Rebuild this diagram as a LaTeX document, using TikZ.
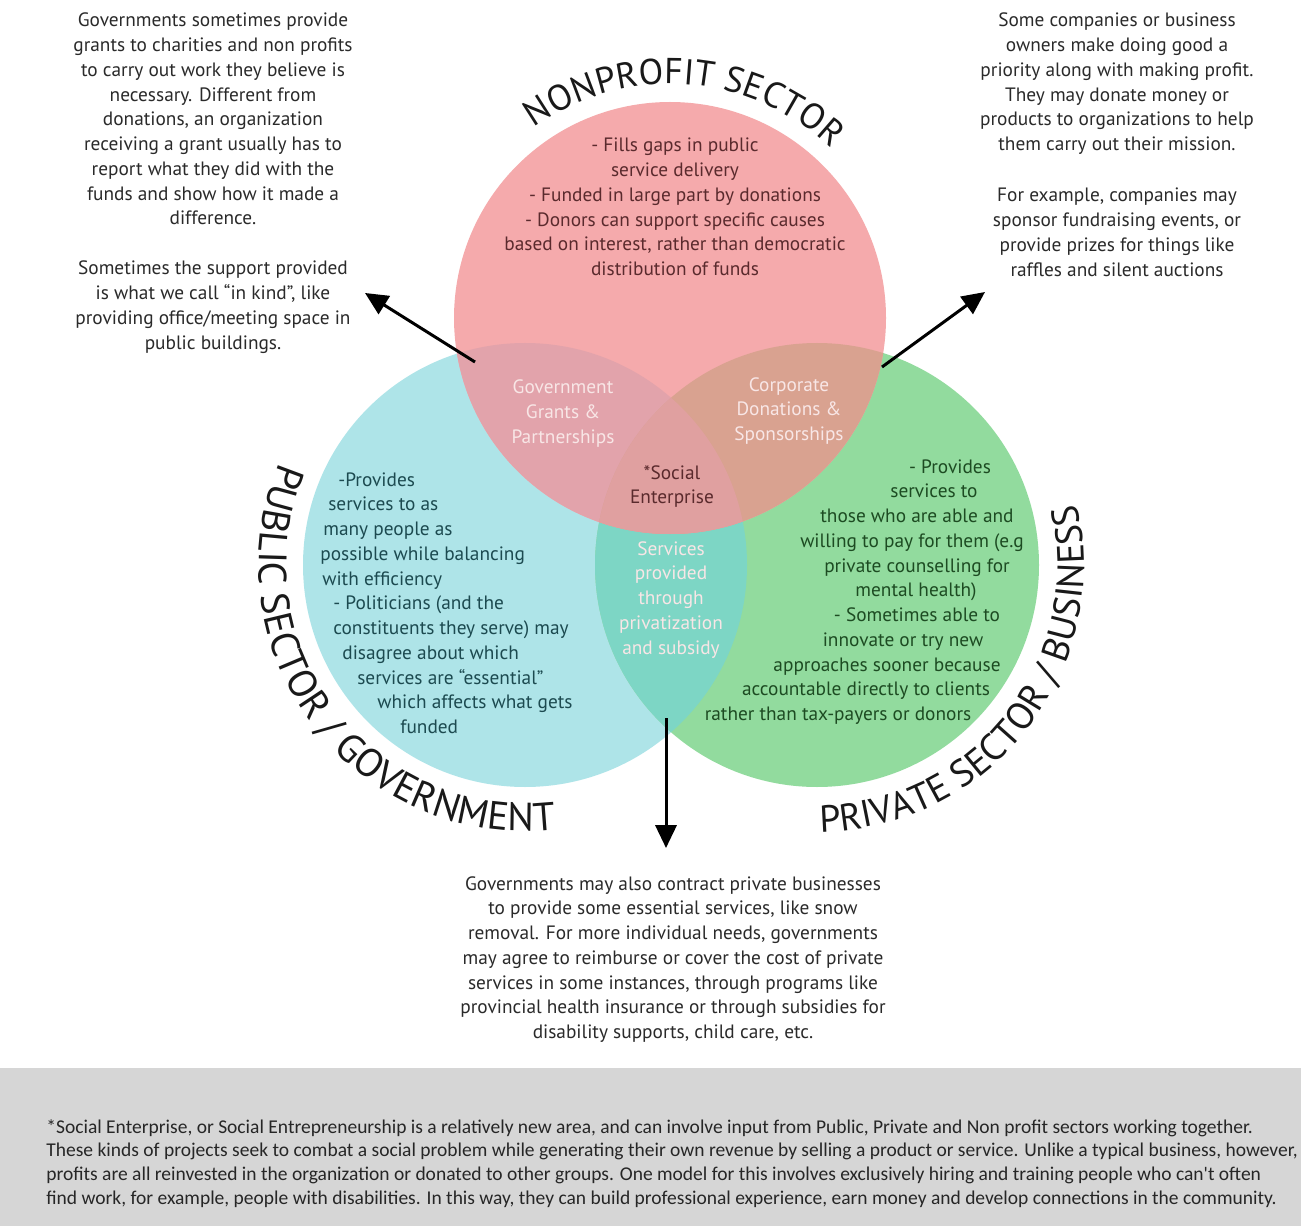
\documentclass[tikz,border=0pt]{standalone}
\usepackage{fontspec}
\setmainfont{PT Sans}
\newfontfamily\footfont{Carlito}
\usetikzlibrary{decorations.text,arrows.meta}
\definecolor{pinkc}{HTML}{F5AAAC}
\definecolor{cyanc}{HTML}{AEE4E8}
\definecolor{greenc}{HTML}{92DB9E}
\definecolor{mauvec}{HTML}{E2A3AB}
\definecolor{tanc}{HTML}{D9A290}
\definecolor{tealc}{HTML}{7DD6C5}
\definecolor{centerc}{HTML}{E0A0A0}
\definecolor{pinktext}{HTML}{5A2A2D}
\definecolor{cyantext}{HTML}{1C4A50}
\definecolor{greentext}{HTML}{1D4B22}
\definecolor{lighttext}{HTML}{F8E6E6}
\definecolor{darktext}{HTML}{2A2A2A}
\definecolor{footgray}{HTML}{D6D6D6}
\newcommand\ttlfont[1]{\fontsize{#1}{#1}\selectfont}
\newcommand\tblock[5]{%
  \foreach \ln [count=\i] in {#5} {%
    \node[#4, anchor=base] (#1\i) at (#2, {-(#3)-(\i-1)*24.75}) {\ln};}}
\begin{document}
\begin{tikzpicture}[x=0.02cm,y=0.02cm,
  body/.style={font=\fontsize{11}{14}\selectfont, inner sep=0pt, text=darktext},
  foot/.style={font=\footfont\fontsize{11.1}{13}\selectfont, inner sep=0pt, text=black!85},
  arr/.style={-{Triangle[length=13pt,width=12pt]}, line width=1.7pt, draw=black},
  ttl/.style={decorate, decoration={text along path, text align=center, text color=black!90}}]
\useasboundingbox (0,0) rectangle (1301,-1226);
\fill[white] (0,0) rectangle (1301,-1226);
\fill[footgray] (0,-1068) rectangle (1301,-1226);
% circles
\coordinate (pc) at (670,-318);
\coordinate (cc) at (525,-565);
\coordinate (gc) at (817,-565);
\fill[cyanc] (cc) circle[radius=222];
\fill[greenc] (gc) circle[radius=222];
\begin{scope}
  \clip (cc) circle[radius=222];
  \fill[tealc] (gc) circle[radius=222];
\end{scope}
\fill[pinkc] (pc) circle[radius=216];
\begin{scope}
  \clip (pc) circle[radius=216];
  \fill[mauvec] (cc) circle[radius=222];
  \fill[tanc] (gc) circle[radius=222];
  \clip (cc) circle[radius=222];
  \fill[centerc] (gc) circle[radius=222];
\end{scope}
% curved titles
\path[ttl, decoration={text={|\ttlfont{20.5}|NONPROFIT SECTOR}}]
  (pc) ++(136:234) arc[start angle=136, end angle=36, radius=234];
\path[ttl, decoration={text={|\ttlfont{22.5}|PUBLIC SECTOR / GOVERNMENT}}]
  (cc) ++(155:266) arc[start angle=155, end angle=279, radius=266];
\path[ttl, decoration={text={|\ttlfont{21.5}|PRIVATE SECTOR / BUSINESS}}]
  (gc) ++(270:267) arc[start angle=270, end angle=374, radius=267];
% outside texts
\tblock{tla}{213}{27}{body}{{Governments sometimes provide},{grants to charities and non profits},{to carry out work they believe is},{necessary. Different from},{donations, an organization},{receiving a grant usually has to},{report what they did with the},{funds and show how it made a},{difference.}}
\tblock{tlb}{213}{275}{body}{{Sometimes the support provided},{is what we call “in kind”, like},{providing office/meeting space in},{public buildings.}}
\tblock{tra}{1117}{27}{body}{{Some companies or business},{owners make doing good a},{priority along with making profit.},{They may donate money or},{products to organizations to help},{them carry out their mission.}}
\tblock{trb}{1117}{202}{body}{{For example, companies may},{sponsor fundraising events, or},{provide prizes for things like},{raffles and silent auctions}}
\tblock{bot}{673}{890}{body}{{Governments may also contract private businesses},{to provide some essential services, like snow},{removal. For more individual needs, governments},{may agree to reimburse or cover the cost of private},{services in some instances, through programs like},{provincial health insurance or through subsidies for},{disability supports, child care, etc.}}
% circle texts
\tblock{np}{675}{152}{body, text=pinktext}{{- Fills gaps in public},{service delivery},{- Funded in large part by donations},{- Donors can support specific causes},{based on interest, rather than democratic},{distribution of funds}}
\tblock{gg}{563}{394}{body, text=lighttext}{{Government},{Grants \&},{Partnerships}}
\tblock{cd}{789}{391}{body, text=lighttext}{{Corporate},{Donations \&},{Sponsorships}}
\tblock{se}{672}{479}{body, text=pinktext}{{*Social},{Enterprise}}
\tblock{sp}{671}{555}{body, text=lighttext}{{Services},{provided},{through},{privatization},{and subsidy}}
\foreach \xx/\ln [count=\i] in {338/{-Provides},328/{services to as},323/{many people as},320/{possible while balancing},322/{with efficiency},333/{- Politicians (and the},333/{constituents they serve) may},342/{disagree about which},357/{services are “essential”},377/{which affects what gets},400/{funded}}
  \node[body, text=cyantext, anchor=base west] (pub\i) at (\xx, {-486-(\i-1)*24.75}) {\ln};
\foreach \xx/\ln [count=\i] in {950/{- Provides},934/{services to},917/{those who are able and},912/{willing to pay for them (e.g},917/{private counselling for},916/{mental health)},917/{- Sometimes able to},903/{innovate or try new},887/{approaches sooner because},866/{accountable directly to clients},838/{rather than tax-payers or donors}}
  \node[body, text=greentext, anchor=base] (prv\i) at (\xx, {-473-(\i-1)*24.75}) {\ln};
% footer
\foreach \ln [count=\i] in {{*Social Enterprise, or Social Entrepreneurship is a relatively new area, and can involve input from Public, Private and Non profit sectors working together.},{These kinds of projects seek to combat a social problem while generating their own revenue by selling a product or service. Unlike a typical business, however,},{profits are all reinvested in the organization or donated to other groups. One model for this involves exclusively hiring and training people who can't often},{find work, for example, people with disabilities. In this way, they can build professional experience, earn money and develop connections in the community.}}
  \node[foot, anchor=base west] (ft\i) at (46, {-1133-(\i-1)*23.7}) {\ln};
% arrows
\coordinate (a1s) at (475,-362); \coordinate (a1e) at (365,-293);
\coordinate (a2s) at (882,-367); \coordinate (a2e) at (985,-292);
\coordinate (a3s) at (666,-718); \coordinate (a3e) at (666,-848);
\draw[arr] (a1s) -- (a1e);
\draw[arr] (a2s) -- (a2e);
\draw[arr] (a3s) -- (a3e);
\end{tikzpicture}
\end{document}
